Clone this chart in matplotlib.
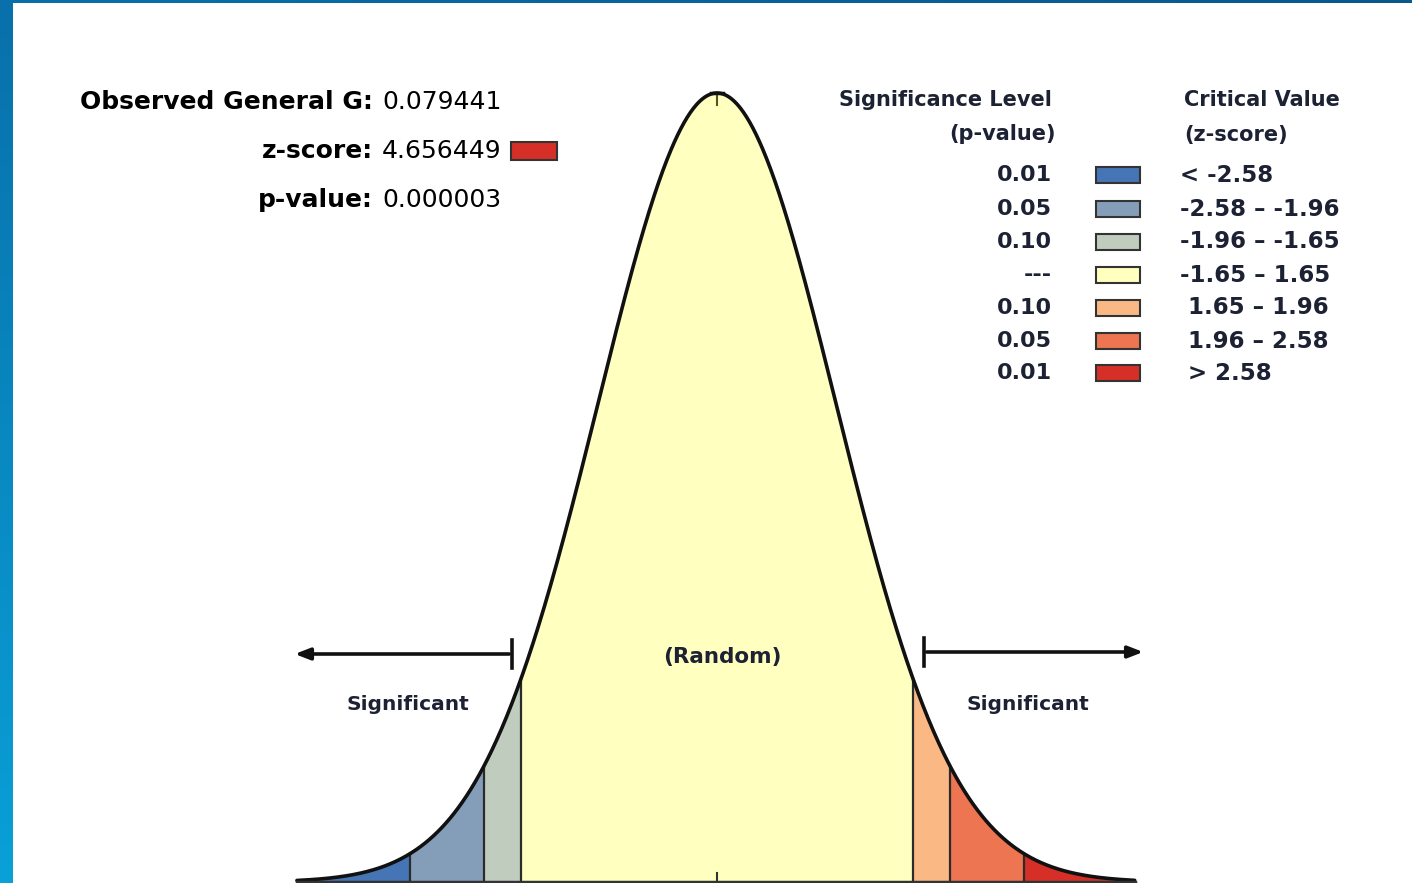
import numpy as np
import matplotlib
matplotlib.use('Agg')
import matplotlib.pyplot as plt
from matplotlib.patches import Rectangle

# --- data -------------------------------------------------------------
observed_g = '0.079441'
z_score = 4.656449
p_value = '0.000003'

# z-score bin edges (critical values) and the matching colours
bin_edges = [-3.53, -2.58, -1.96, -1.65, 1.65, 1.96, 2.58, 3.51]
bin_colors = ['#4575b5', '#849eba', '#c0ccbe', '#ffffbf',
              '#fab984', '#ed7551', '#d62f27']
sig_levels = ['0.01', '0.05', '0.10', '---', '0.10', '0.05', '0.01']
crit_labels = ['< -2.58', '-2.58 – -1.96', '-1.96 – -1.65', '-1.65 – 1.65',
               ' 1.65 – 1.96', ' 1.96 – 2.58', ' > 2.58']

W, H = 1412, 883
fig = plt.figure(figsize=(W / 100, H / 100), dpi=100)
fig.patch.set_facecolor('white')

# --- bell curve in z units -------------------------------------------
px_per_z = 119.0
x_center = 717.0
y_peak, y_base = 93.0, 882.0
zmin, zmax = bin_edges[0], bin_edges[-1]
left = (x_center + zmin * px_per_z) / W
width = (zmax - zmin) * px_per_z / W
ax = fig.add_axes([left, (H - y_base) / H, width, (y_base - y_peak) / H])
ax.set_xlim(zmin, zmax)
ax.set_ylim(0, 1)
ax.axis('off')
ax.set_zorder(1)

z = np.linspace(zmin, zmax, 800)
pdf = np.exp(-z ** 2 / 2)

for lo, hi, col in zip(bin_edges[:-1], bin_edges[1:], bin_colors):
    m = (z >= lo) & (z <= hi)
    zz = np.concatenate([[lo], z[m], [hi]])
    yy = np.exp(-zz ** 2 / 2)
    ax.fill_between(zz, 0, yy, color=col, lw=0, clip_on=False)
for e in bin_edges[1:-1]:
    ax.plot([e, e], [0, np.exp(-e ** 2 / 2)], color='#2b2b2b', lw=1.6, clip_on=False)

ax.plot(z, pdf, color='#111111', lw=2.6, clip_on=False, solid_capstyle='round')
ax.plot([zmin, zmax], [0, 0], color='#333333', lw=2.5, clip_on=False)
ax.plot([0, 0], [0, 0.012], color='#333333', lw=1.5, clip_on=False)
ax.plot([0, 0], [0.985, 1.0], color='#555522', lw=1.5, clip_on=False)
ax.plot([-0.05, 0.05], [1.0, 1.0], color='#111111', lw=2.5, clip_on=False)

# overlay in pixel space for text / legend / frame (drawn above the curve)
ov = fig.add_axes([0, 0, 1, 1])
ov.set_zorder(2)
ov.patch.set_alpha(0)
ov.axis('off')

# blue frame (left strip gradient + thin top strip)
grad = np.linspace(0, 1, 256).reshape(-1, 1)
cmap = matplotlib.colors.LinearSegmentedColormap.from_list('frame', ['#0870aa', '#0aa0d8'])
ov.imshow(grad, cmap=cmap, extent=(0, 13, H, 0), aspect='auto', zorder=5)
gtop = np.linspace(0, 1, 256).reshape(1, -1)
cmap2 = matplotlib.colors.LinearSegmentedColormap.from_list('top', ['#0870aa', '#08588a'])
ov.imshow(gtop, cmap=cmap2, extent=(0, W, 3.5, 0), aspect='auto', zorder=5)
ov.set_xlim(0, W)
ov.set_ylim(H, 0)

# --- arrows ------------------------------------------------------------
arr = dict(arrowstyle='-|>,head_length=0.9,head_width=0.35', color='#111111', lw=2.6)
ov.annotate('', xy=(292, 654), xytext=(512, 654), arrowprops=arr)
ov.plot([512, 512], [640, 668], color='#111111', lw=2.6)
ov.annotate('', xy=(1146, 652), xytext=(924, 652), arrowprops=arr)
ov.plot([924, 924], [638, 666], color='#111111', lw=2.6)

lab = dict(fontweight='bold', color='#1c2233',
           ha='center', va='center', family='DejaVu Sans')
ov.text(722, 657, '(Random)', fontsize=15.5, **lab)
ov.text(408, 705, 'Significant', fontsize=14.5, **lab)
ov.text(1028, 705, 'Significant', fontsize=14.5, **lab)

# --- stats block ------------------------------------------------------
head = dict(fontsize=18, fontweight='bold', color='black', ha='right', va='center',
            family='DejaVu Sans')
val = dict(fontsize=18, color='black', ha='left', va='center', family='DejaVu Sans')
rows = [('Observed General G:', observed_g, 102),
        ('z-score:', f'{z_score:.6f}', 151),
        ('p-value:', p_value, 200)]
for name, v, y in rows:
    ov.text(373, y, name, **head)
    ov.text(382, y, v, **val)
zc = bin_colors[int(np.digitize(z_score, bin_edges[1:-1]))]
ov.add_patch(Rectangle((511, 142), 46, 18, facecolor=zc, edgecolor='#333333', lw=1.5))

# --- legend -----------------------------------------------------------
lg = dict(fontweight='bold', color='#1c2233', va='center', family='DejaVu Sans')
ov.text(1052, 100, 'Significance Level', ha='right', fontsize=15, **lg)
ov.text(1056, 134, '(p-value)', ha='right', fontsize=15, **lg)
ov.text(1184, 100, 'Critical Value', ha='left', fontsize=15, **lg)
ov.text(1184, 135, '(z-score)', ha='left', fontsize=15, **lg)
row_y = [175, 209, 242, 275, 308, 341, 373]
for sl, cl, col, y in zip(sig_levels, crit_labels, bin_colors, row_y):
    ov.text(1052, y, sl, ha='right', fontsize=16, **lg)
    ov.add_patch(Rectangle((1096, y - 8), 44, 16, facecolor=col, edgecolor='#333333', lw=1.5))
    ov.text(1180, y, cl, ha='left', fontsize=16.5, **lg)

fig.savefig('out.png', dpi=100)
